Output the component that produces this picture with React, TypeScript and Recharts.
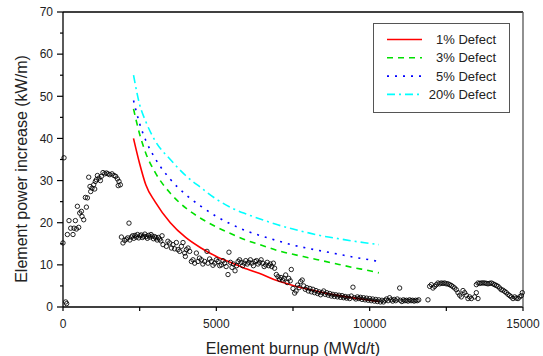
import React from 'react';
import { ComposedChart, Line, Scatter, XAxis, YAxis, Legend } from 'recharts';

// model curves (same burnup grid for every defect size)
const MODEL_BURNUP = [2300, 2500, 2700, 3000, 3500, 4000, 4500, 5000, 5500, 6000, 6500, 7000, 7500, 8000, 8500, 9000, 9500, 10000, 10300];
const DEFECT_1 = [40, 34, 29, 25, 20, 16.5, 14, 12, 10.5, 9, 7.7, 6.2, 5.1, 4.2, 3.4, 2.7, 2.1, 1.6, 1.3];
const DEFECT_3 = [47, 41, 36.5, 32, 27, 23.5, 21, 19, 17.3, 15.8, 14.6, 13.4, 12.5, 11.7, 10.9, 10.1, 9.3, 8.6, 8.1];
const DEFECT_5 = [49, 43.5, 39.5, 35.3, 30.3, 26.7, 23.9, 21.5, 19.6, 18, 16.8, 15.7, 14.7, 13.9, 13.2, 12.5, 11.8, 11.2, 10.8];
const DEFECT_20 = [55, 48, 44, 39.5, 35, 31.2, 28.3, 25.6, 23.5, 22, 20.7, 19.5, 18.5, 17.6, 16.8, 16.2, 15.6, 15.1, 14.8];

// measured power increase, [burnup, kW/m]
const MEASURED: [number, number][] = [
  [0, 15.2], [33, 35.4], [88, 1.2], [120, 0.8], [143, 17.2], [196, 20.5], [250, 18.7], [326, 17.2], [359, 18.7],
  [404, 20.5], [437, 18.5], [469, 23.9], [512, 18.9], [545, 22.3], [600, 22.7], [620, 21.5], [675, 20.7],
  [730, 26], [763, 23.7], [796, 25.9], [838, 30.8], [880, 28.6], [903, 27.4], [946, 28.2], [1001, 29],
  [1034, 28], [1056, 29.8], [1089, 30.2], [1122, 31.2], [1174, 30.6], [1219, 30], [1252, 31], [1304, 31.9],
  [1360, 31.6], [1415, 31.8], [1467, 31.6], [1523, 31.4], [1598, 31.6], [1663, 31.2], [1718, 31], [1774, 30.4],
  [1800, 28.8], [1826, 29.8], [1871, 29],
  [1904, 16.6], [1956, 15.2], [2012, 15.8], [2067, 16.1], [2110, 16.4], [2152, 19.9], [2180, 15.9], [2230, 16.6],
  [2270, 16.9], [2310, 16.3], [2350, 17.0], [2390, 16.6], [2430, 17.2], [2470, 16.4], [2510, 16.9], [2550, 17.1],
  [2590, 16.5], [2630, 16.8], [2670, 17.3], [2710, 16.7], [2750, 16.3], [2790, 17.0], [2830, 16.6], [2870, 17.2],
  [2910, 16.8], [2950, 16.2], [2990, 16.7], [3030, 16.4], [3070, 15.9], [3110, 16.5], [3150, 16.1], [3190, 15.7],
  [3230, 16.9], [3261, 14.8],
  [3370, 14.4], [3420, 15.6], [3479, 15.2], [3534, 14], [3587, 14.8], [3640, 13.8], [3697, 15.3], [3750, 13.6],
  [3805, 13.2], [3860, 14.4], [3913, 15.3], [3968, 12.8], [3990, 12], [4023, 13.6], [4076, 14], [4131, 13.2],
  [4186, 10.8], [4239, 11.2], [4294, 10.4], [4349, 12.8],
  [4402, 10.8], [4450, 11.6], [4513, 11.2], [4560, 10.2], [4620, 10.8], [4695, 13.2], [4728, 10.4], [4780, 11.4],
  [4838, 10.8], [4890, 9.9], [4946, 10.4], [5000, 11.2], [5054, 10.8], [5110, 9.8], [5165, 10], [5220, 11.0],
  [5272, 10.4], [5320, 9.6], [5380, 7.7], [5412, 13], [5460, 10.6], [5510, 9.4], [5560, 10.2], [5610, 8.6],
  [5660, 9.8], [5710, 10.8], [5760, 11.2], [5810, 10.6], [5860, 9.8], [5910, 10.4], [5960, 11.0], [6010, 10.2],
  [6060, 10.6], [6110, 11.2], [6160, 10.4], [6210, 9.8], [6260, 10.8], [6310, 11.0], [6360, 10.2], [6410, 10.6],
  [6460, 11.2], [6510, 10.4], [6560, 9.6], [6610, 10.0], [6660, 10.6], [6710, 9.8], [6760, 10.2], [6810, 9.6],
  [6860, 10.4], [6900, 9.2],
  [6957, 7.7], [7010, 7.2], [7060, 6.6], [7110, 7.0], [7160, 6.4], [7210, 6.8], [7260, 7.6], [7310, 5.8],
  [7360, 6.8], [7410, 6.2], [7445, 8.9], [7500, 4.4], [7554, 3.3], [7600, 3.8], [7650, 5.2], [7700, 4.6],
  [7750, 6.0], [7800, 6.4], [7850, 5.0], [7900, 4.2], [7950, 4.6], [8000, 3.8], [8050, 4.4], [8100, 3.6],
  [8150, 4.2], [8200, 3.4], [8250, 3.9], [8300, 3.2], [8350, 3.6], [8400, 2.9], [8450, 3.4], [8500, 3.8],
  [8550, 3.0], [8600, 3.4], [8650, 2.8], [8700, 3.2], [8750, 2.6], [8800, 3.0], [8850, 2.5], [8900, 2.9],
  [8950, 2.4], [9000, 2.8], [9050, 2.3], [9100, 2.7], [9150, 2.2], [9200, 2.5], [9250, 2.1], [9300, 2.4],
  [9350, 2.0], [9400, 2.6], [9455, 4.7], [9500, 2.2], [9550, 1.9], [9600, 2.4], [9650, 2.0], [9700, 2.3],
  [9750, 1.8], [9800, 2.2], [9850, 1.7], [9900, 2.1], [9950, 1.6], [10000, 2.0], [10050, 1.5], [10100, 1.9],
  [10150, 1.4], [10200, 1.8], [10250, 1.3], [10300, 1.7], [10350, 1.2], [10400, 1.6], [10450, 1.2], [10500, 1.6],
  [10550, 1.9], [10600, 1.5], [10650, 2.2], [10700, 1.7], [10750, 1.4], [10800, 1.8], [10850, 1.5], [10900, 1.9],
  [10978, 4.5], [11000, 1.6], [11050, 1.3], [11100, 1.7], [11150, 1.5], [11200, 1.6], [11250, 1.4], [11300, 1.7],
  [11350, 1.5], [11400, 1.6], [11450, 1.4], [11500, 1.6], [11550, 1.5], [11600, 1.7],
  [11901, 1.7], [11956, 4.9], [12011, 5.3], [12064, 4.5], [12119, 4.9], [12175, 5.3], [12227, 5.7], [12282, 5.5],
  [12336, 5.7], [12390, 5.6], [12445, 5.7], [12500, 5.5], [12553, 5.5], [12608, 5.3], [12663, 5.1], [12717, 4.8],
  [12771, 4.5], [12826, 4.1], [12880, 3.4], [12934, 2.8], [12989, 2.4], [13043, 3.9], [13097, 3.4], [13152, 2.8],
  [13206, 2.0], [13260, 2.4], [13315, 2.0], [13424, 2.4], [13478, 3.4], [13532, 2.0],
  [13478, 5.3], [13532, 5.7], [13587, 5.6], [13641, 5.7], [13695, 5.7], [13750, 5.7], [13804, 5.6], [13858, 5.5],
  [13913, 5.6], [13967, 5.7], [14021, 5.5], [14076, 5.3], [14130, 5.1], [14184, 4.9], [14239, 4.5], [14293, 4.1],
  [14347, 4.0], [14402, 3.7], [14456, 3.4], [14511, 3.0], [14565, 2.7], [14619, 2.4], [14674, 2.0], [14728, 2.4],
  [14782, 2.1], [14837, 2.0], [14891, 2.4], [14945, 2.7], [14978, 3.4],
];

const X_TICKS = [0, 2500, 5000, 7500, 10000, 12500, 15000];
const Y_TICKS = [0, 5, 10, 15, 20, 25, 30, 35, 40, 45, 50, 55, 60, 65, 70];

const SERIES = [
  { name: '1% Defect', values: DEFECT_1, color: '#ff0000', dash: undefined as string | undefined },
  { name: '3% Defect', values: DEFECT_3, color: '#00e000', dash: '6 5' },
  { name: '5% Defect', values: DEFECT_5, color: '#0000ff', dash: '2 6' },
  { name: '20% Defect', values: DEFECT_20, color: '#00ffff', dash: '8 4 2 4' },
];

const FONT = '"Liberation Sans", Arial, sans-serif';

const scatterData = MEASURED.map(([x, y]) => ({ x, y }));

const XTick = (props: any) => {
  const { x, y, payload } = props;
  const v = payload.value;
  return (
    <g>
      <line x1={x} x2={x} y1={y} y2={y + 4} stroke="#000" strokeWidth={1.2} />
      {v % 5000 === 0 && (
        <text x={x} y={y + 21} textAnchor="middle" fontSize={12} fill="#222" fontFamily={FONT}>
          {v}
        </text>
      )}
    </g>
  );
};

const YTick = (props: any) => {
  const { x, y, payload } = props;
  const v = payload.value;
  const major = v % 10 === 0;
  return (
    <g>
      <line x1={x} x2={x - (major ? 6 : 3)} y1={y} y2={y} stroke="#000" strokeWidth={1.2} />
      {major && (
        <text x={x - 10} y={y} dy="0.36em" textAnchor="end" fontSize={12} fill="#222" fontFamily={FONT}>
          {v}
        </text>
      )}
    </g>
  );
};

const LegendBox = () => (
  <svg width={137} height={90}>
    <rect x={0.5} y={0.5} width={136} height={89} fill="#fff" stroke="#555" strokeWidth={1} />
    {SERIES.map((s, i) => {
      const cy = 16.5 + i * 18.3;
      return (
        <g key={s.name}>
          <line x1={14} x2={49} y1={cy} y2={cy} stroke={s.color} strokeWidth={1.6} strokeDasharray={s.dash} />
          <text x={123} y={cy} dy="0.36em" textAnchor="end" fontSize={13} fill="#222" fontFamily={FONT}>
            {s.name}
          </text>
        </g>
      );
    })}
  </svg>
);

export default function App() {
  return (
    <div style={{ position: 'absolute', left: 0, top: 0, width: 543, height: 356 }}>
      <ComposedChart width={543} height={356} margin={{ top: 0, right: 0, bottom: 0, left: 0 }}>
        <XAxis
          xAxisId="bottom"
          dataKey="x"
          type="number"
          domain={[0, 15000]}
          ticks={X_TICKS}
          interval={0}
          height={49}
          tickSize={0}
          tickMargin={0}
          tickLine={false}
          tick={<XTick />}
          axisLine={{ stroke: '#000', strokeWidth: 1.3 }}
          label={{
            content: () => (
              <text x={293} y={354} textAnchor="middle" fontSize={16} fill="#222" fontFamily={FONT}>
                Element burnup (MWd/t)
              </text>
            ),
          }}
        />
        <XAxis
          xAxisId="top"
          orientation="top"
          dataKey="x"
          type="number"
          domain={[0, 15000]}
          ticks={X_TICKS}
          height={12}
          tick={false}
          tickSize={2}
          tickLine={{ stroke: '#999' }}
          axisLine={{ stroke: '#000', strokeWidth: 1.3 }}
        />
        <YAxis
          yAxisId="left"
          dataKey="y"
          type="number"
          domain={[0, 70]}
          ticks={Y_TICKS}
          interval={0}
          width={63}
          tickSize={0}
          tickMargin={0}
          tickLine={false}
          tick={<YTick />}
          axisLine={{ stroke: '#000', strokeWidth: 1.3 }}
          label={{
            content: () => (
              <text
                transform="translate(21.5,169) rotate(-90)"
                textAnchor="middle"
                dy="0.36em"
                fontSize={16}
                fill="#222"
                fontFamily={FONT}
              >
                Element power increase (kW/m)
              </text>
            ),
          }}
        />
        <YAxis
          yAxisId="right"
          orientation="right"
          type="number"
          domain={[0, 70]}
          ticks={Y_TICKS}
          interval={0}
          width={20}
          tick={false}
          tickSize={3}
          tickLine={{ stroke: '#333' }}
          axisLine={{ stroke: '#555', strokeWidth: 1.3 }}
        />
        <Legend
          layout="horizontal"
          verticalAlign="middle"
          align="center"
          wrapperStyle={{ left: 373, top: 23, width: 137, height: 90 }}
          content={() => <LegendBox />}
        />
        <Scatter
          xAxisId="bottom"
          yAxisId="left"
          data={scatterData}
          dataKey="y"
          isAnimationActive={false}
          shape={(p: any) => <circle cx={p.cx} cy={p.cy} r={2.2} fill="none" stroke="#000" strokeWidth={0.85} />}
        />
        {SERIES.map((s) => (
          <Line
            key={s.name}
            xAxisId="bottom"
            yAxisId="left"
            data={MODEL_BURNUP.map((x, i) => ({ x, y: s.values[i] }))}
            dataKey="y"
            type="monotone"
            stroke={s.color}
            strokeWidth={1.6}
            strokeDasharray={s.dash}
            dot={false}
            isAnimationActive={false}
          />
        ))}
      </ComposedChart>
    </div>
  );
}
